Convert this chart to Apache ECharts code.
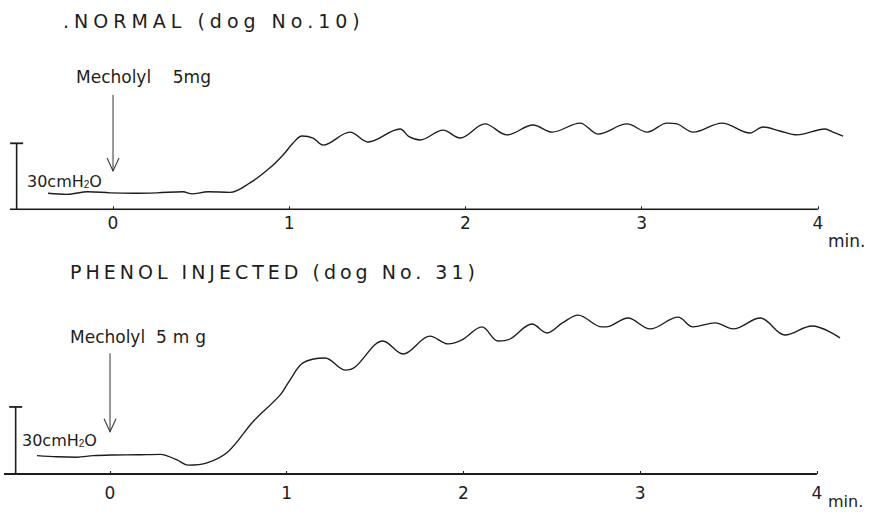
<!DOCTYPE html>
<html>
<head>
<meta charset="utf-8">
<script src="https://cdn.jsdelivr.net/npm/echarts@6/dist/echarts.min.js"></script>
<style>
  html, body { margin: 0; padding: 0; background: #ffffff; }
  #chart { width: 875px; height: 513px; }
</style>
</head>
<body>
<div id="chart"></div>
<script>
// Airway pressure traces after Mecholyl 5 mg (injected at t = 0).
// Time in minutes, pressure in cmH2O measured from the trace baseline axis.

const normalTime = [-0.369, -0.261, -0.142, -0.017, 0.114, 0.250, 0.397, 0.448, 0.539, 0.664,
  0.777, 0.891, 0.965, 1.022, 1.073, 1.135, 1.192, 1.345, 1.447, 1.629, 1.680, 1.742,
  1.873, 1.969, 2.111, 2.236, 2.384, 2.492, 2.650, 2.753, 2.917, 3.031, 3.144, 3.201,
  3.292, 3.456, 3.615, 3.689, 3.785, 3.882, 4.041, 4.086, 4.143];
const normalPressure = [7.3, 6.8, 8.0, 7.5, 7.3, 7.5, 8.0, 7.0, 8.0, 7.7,
  12.0, 18.9, 24.7, 30.1, 33.3, 32.4, 29.2, 35.1, 30.6, 36.5, 33.0, 31.5,
  36.0, 32.4, 38.8, 33.8, 38.3, 35.1, 39.2, 34.2, 38.8, 35.1, 39.2, 38.8,
  35.1, 39.2, 34.7, 37.4, 35.6, 33.8, 36.5, 35.1, 33.3];

const phenolTime = [-0.413, -0.300, -0.187, -0.096, 0.017, 0.153, 0.283, 0.323, 0.379, 0.441,
  0.549, 0.668, 0.809, 0.962, 1.019, 1.092, 1.217, 1.330, 1.387, 1.545, 1.658, 1.811,
  1.913, 1.992, 2.105, 2.196, 2.264, 2.388, 2.473, 2.560, 2.649, 2.784, 2.830, 2.931,
  3.056, 3.214, 3.299, 3.424, 3.526, 3.679, 3.820, 3.973, 4.131];
const phenolPressure = [8.2, 7.7, 7.5, 8.2, 8.5, 8.6, 8.8, 8.1, 6.3, 4.0,
  5.0, 10.0, 23.4, 35.3, 42.1, 49.7, 51.9, 46.5, 47.9, 59.5, 53.7, 61.7,
  58.2, 60.0, 65.8, 59.5, 60.4, 67.1, 63.1, 67.6, 71.1, 65.8, 66.2, 69.8,
  64.9, 70.2, 65.8, 67.6, 64.9, 69.8, 62.2, 66.2, 60.9];

const tickValues = [0, 1, 2, 3, 4];
const panelTitles = ['.NORMAL (dog No.10)', 'PHENOL INJECTED (dog No. 31)'];
const doseTime = 0;
const scaleBarValue = 30;
const timeUnit = 'min.';

const INK = '#1d1d1d';
const FONT = '"DejaVu Sans", sans-serif';

const pairs = (xs, ys) => xs.map((x, i) => [x, ys[i]]);

// Per-panel layout: axis extent, scale-bar position, arrow extent, y range
const panels = [
  {
    time: normalTime, pressure: normalPressure,
    grid: { left: 7.3, top: 0.3, width: 845.8, height: 209 },
    yMax: 95, axisFrom: -0.585, barAt: -0.547, arrowTop: 52, arrowTip: 17.4,
    labelMargin: 5
  },
  {
    time: phenolTime, pressure: phenolPressure,
    grid: { left: 4, top: 250.5, width: 848.2, height: 223.5 },
    yMax: 100, axisFrom: -0.6, barAt: -0.534, arrowTop: 54, arrowTip: 18.9,
    labelMargin: 10
  }
];

const grids = [], xAxes = [], yAxes = [], series = [];
panels.forEach((p, i) => {
  grids.push(Object.assign({ outerBoundsMode: 'none', containLabel: false }, p.grid));
  xAxes.push({
    type: 'value', gridIndex: i, min: -0.6, max: 4.2,
    axisLine: { show: false },
    splitLine: { show: false },
    axisTick: { customValues: tickValues, inside: true, length: 3,
      lineStyle: { color: INK, width: 1 } },
    axisLabel: { customValues: tickValues, margin: p.labelMargin,
      color: INK, fontSize: 17, fontFamily: FONT }
  });
  yAxes.push({ type: 'value', gridIndex: i, min: 0, max: p.yMax, show: false });

  // pressure trace
  series.push({
    type: 'line', xAxisIndex: i, yAxisIndex: i,
    data: pairs(p.time, p.pressure),
    smooth: 0.35, symbol: 'none',
    lineStyle: { color: INK, width: 1.35 }
  });
  // time axis line, drawn up to the last tick
  series.push({
    type: 'line', xAxisIndex: i, yAxisIndex: i,
    data: [[p.axisFrom, 0], [tickValues[tickValues.length - 1], 0]],
    symbol: 'none', lineStyle: { color: INK, width: 1.8 }
  });
  // 30 cmH2O calibration bar
  series.push({
    type: 'line', xAxisIndex: i, yAxisIndex: i,
    data: [[p.barAt, 0], [p.barAt, scaleBarValue]],
    symbol: 'none', lineStyle: { color: INK, width: 1.6 },
    markPoint: {
      symbol: 'rect', symbolSize: [13, 1.8], silent: true,
      itemStyle: { color: INK }, label: { show: false },
      data: [{ coord: [p.barAt, scaleBarValue] }]
    }
  });
  // injection arrow
  series.push({
    type: 'line', xAxisIndex: i, yAxisIndex: i,
    data: [[doseTime, p.arrowTop], [doseTime, p.arrowTip]],
    symbol: 'none', lineStyle: { color: '#333', width: 1 },
    markPoint: {
      symbol: 'path://M0,0L6,13L12,0', symbolSize: [12, 13], symbolOffset: [0, '-50%'],
      silent: true, label: { show: false },
      itemStyle: { color: 'transparent', borderColor: '#333', borderWidth: 1.1 },
      data: [{ coord: [doseTime, p.arrowTip] }]
    }
  });
});

const txt = (x, y, text, size, extra) => ({
  type: 'text', x: x, y: y, silent: true,
  style: Object.assign({ text: text, fill: INK, fontSize: size, fontFamily: FONT,
    verticalAlign: 'middle', align: 'left' }, extra || {})
});
const sub = { s: { fontSize: 10, padding: [7, 0, 0, 0] } };

const graphics = [
  txt(63, 21, panelTitles[0], 19),
  txt(70, 272, panelTitles[1], 19),
  txt(76, 77, 'Mecholyl    5mg', 17),
  txt(70, 337, 'Mecholyl  {g|5mg}', 17, { rich: { g: {} } }),
  txt(27, 181, '30cmH{s|2}O', 16, { rich: sub }),
  txt(22, 440, '30cmH{s|2}O', 16, { rich: sub }),
  txt(828, 241, timeUnit, 17),
  txt(828, 501, timeUnit, 16)
];

const chart = echarts.init(document.getElementById('chart'), null, { renderer: 'svg' });
chart.setOption({
  animation: false,
  backgroundColor: '#ffffff',
  grid: grids, xAxis: xAxes, yAxis: yAxes, series: series,
  graphic: graphics
});

// Wide lettering of the panel headings
function spaceLettering() {
  document.querySelectorAll('#chart text').forEach(el => {
    const s = el.textContent;
    if (s === panelTitles[0]) el.setAttribute('letter-spacing', '5');
    else if (s === panelTitles[1]) el.setAttribute('letter-spacing', '4');
    else if (s === '5mg') el.setAttribute('letter-spacing', '6');
  });
}
spaceLettering();
chart.on('finished', spaceLettering);
</script>
</body>
</html>
